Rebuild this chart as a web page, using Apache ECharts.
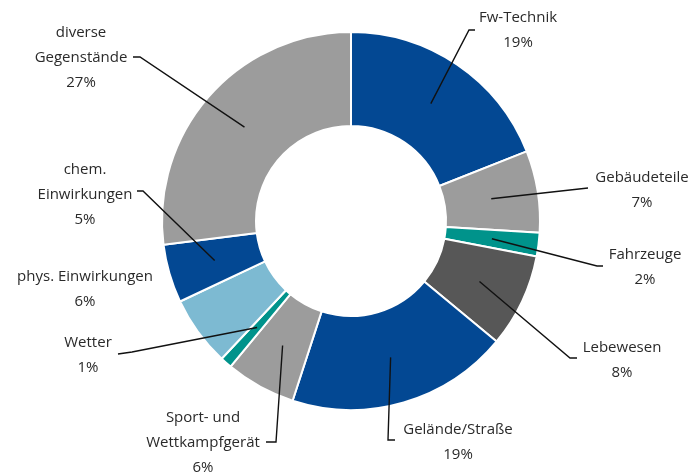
<!DOCTYPE html>
<html>
<head>
<meta charset="utf-8">
<script src="https://cdn.jsdelivr.net/npm/echarts@6/dist/echarts.min.js"></script>
<style>
  html, body { margin: 0; padding: 0; background: #fff; }
  #chart { width: 693px; height: 475px; }
</style>
</head>
<body>
<div id="chart"></div>
<script>
// Kategorien und Anteile (%)
const categories = [
  'Fw-Technik',
  'Gebäudeteile',
  'Fahrzeuge',
  'Lebewesen',
  'Gelände/Straße',
  'Sport- und\nWettkampfgerät',
  'Wetter',
  'phys. Einwirkungen',
  'chem.\nEinwirkungen',
  'diverse\nGegenstände'
]
const values = [19, 7, 2, 8, 19, 6, 1, 6, 5, 27]

const colors = [
  '#034893', '#9c9c9c', '#00938b', '#575757', '#034893',
  '#9c9c9c', '#00938b', '#7dbad2', '#034893', '#9c9c9c'
]

// Layout
const cx = 351
const cy = 221
const rIn = 95
const rOut = 189
const rLine = 142
const lineH = 25

// label anchor (center of first line) and leader line bend/end
const labelPos = [
  [518, 18], [642, 178], [645, 255], [622, 348], [458, 430],
  [203, 418], [88, 343], [85, 277], [85, 170], [81, 33]
]
const leader = [
  [[469, 30], [475, 30]],
  [[588, 188], [588, 188]],
  [[597, 266], [603, 266]],
  [[570, 358], [577, 358]],
  [[388, 440], [395, 440]],
  [[276, 442], [266, 442]],
  [[132, 352], [118, 354]],
  null,
  [[143, 191], [137, 191]],
  [[140, 57], [133, 57]]
]

const total = values.reduce((a, b) => a + b, 0)

// Startpunkt der Linie: Mitte des Rings, Mittelwinkel des Segments
function startPoint(i) {
  let before = 0
  for (let k = 0; k < i; k++) before += values[k]
  const frac = (before + values[i] / 2) / total
  const ang = Math.PI / 2 - frac * Math.PI * 2
  return [cx + rLine * Math.cos(ang), cy - rLine * Math.sin(ang)]
}

// Führungslinien über den Segmenten
const guideLines = []
leader.forEach((l, i) => {
  if (!l) return
  guideLines.push({
    type: 'polyline',
    z: 100,
    silent: true,
    shape: { points: [startPoint(i), l[0], l[1]] },
    style: { stroke: '#111', lineWidth: 1.4, fill: null }
  })
})

const chart = echarts.init(document.getElementById('chart'))

const option = {
  backgroundColor: '#fff',
  animation: false,
  graphic: guideLines,
  series: [
    {
      type: 'pie',
      center: [cx, cy],
      radius: [rIn, rOut],
      startAngle: 90,
      clockwise: true,
      avoidLabelOverlap: false,
      itemStyle: {
        borderColor: '#fff',
        borderWidth: 2
      },
      label: {
        show: true,
        formatter: '{b}\n{c}%',
        fontFamily: 'Open Sans',
        fontSize: 15,
        lineHeight: lineH,
        color: '#2a2a2a',
        align: 'center'
      },
      labelLine: { show: false },
      labelLayout: function (params) {
        const p = labelPos[params.dataIndex]
        return {
          x: p[0],
          y: p[1] - lineH / 2,
          align: 'center',
          verticalAlign: 'top'
        }
      },
      data: categories.map((name, i) => ({
        name: name,
        value: values[i],
        itemStyle: { color: colors[i] }
      }))
    }
  ]
}

chart.setOption(option)
window.addEventListener('resize', chart.resize)
</script>
</body>
</html>
